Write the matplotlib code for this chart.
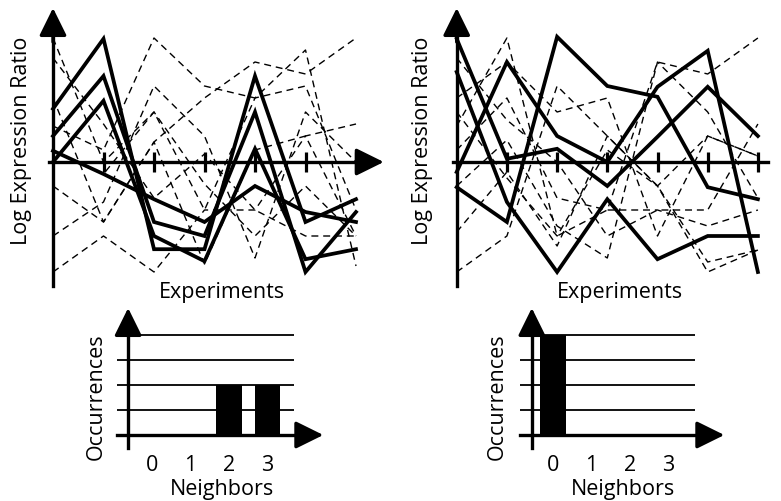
import matplotlib
matplotlib.use("Agg")
import matplotlib.pyplot as plt

W, H = 781, 502

# Experiment profiles (log expression ratio per experiment)
experiments = [0, 1, 2, 3, 4, 5, 6]

left_cluster = [
    [1.33, 3.08, -2.18, -2.18, 2.15, -1.5, -0.93],
    [0.65, 2.15, -1.5, -1.85, 1.25, -2.75, -1.25],
    [0.0, 1.53, -1.85, -2.48, 0.33, -2.43, -2.18],
    [0.28, -0.3, -0.93, -1.5, -0.6, -1.25, -1.5],
]
left_background = [
    [3.1, 0.0, 1.25, -0.55, -1.85, -0.6, -1.85],
    [0.9, 0.3, 3.1, 1.9, 1.6, 2.8, -2.6],
    [-0.6, -1.5, 0.5, 1.6, 2.5, 2.2, 3.1],
    [-2.75, -1.85, -2.75, -1.2, -1.2, 0.65, 0.95],
    [-1.85, -1.0, 1.9, 0.65, -2.4, 1.25, 0.0],
    [0.3, -0.3, 1.25, -1.2, 1.6, 1.9, -1.2],
    [1.6, -1.5, 0.5, -2.55, 0.3, 0.65, -1.85],
    [2.6, 0.95, -0.9, 0.2, -1.2, -1.85, -1.85],
]

right_cluster = [
    [3.08, 0.08, 0.33, -0.6, 0.63, 1.88, 0.65],
    [2.25, -1.0, -2.75, -0.93, -2.43, -1.85, -1.85],
    [-0.25, 2.5, 0.65, 0.0, 1.88, 2.78, -2.75],
    [-0.63, -1.5, 3.13, 1.9, 1.63, -0.63, -0.93],
]
right_background = [
    [0.9, 3.1, -1.85, -1.2, 2.5, 2.2, 3.1],
    [-2.75, -1.85, 1.9, 0.65, -0.6, -2.5, -2.2],
    [1.6, 2.5, 1.25, 1.6, -1.85, 0.65, 0.15],
    [0.3, 1.6, -0.9, -1.2, -1.2, -1.6, -1.2],
    [-0.6, 0.55, -1.6, -2.4, 2.5, 1.25, -0.9],
    [-1.75, -0.25, -2.1, 0.65, -0.6, -2.75, -2.2],
    [2.6, 1.05, 0.0, -1.85, -1.2, -1.2, 0.95],
    [1.25, -0.4, -1.85, 0.3, -0.6, 0.65, 0.15],
]

# Neighbor-count histograms
neighbors = [0, 1, 2, 3]
left_counts = [0, 0, 2, 2]
right_counts = [4, 0, 0, 0]
count_levels = [0, 1, 2, 3, 4]

plt.rcParams["font.family"] = ["Open Sans", "DejaVu Sans"]
FS = 15.5

fig = plt.figure(figsize=(W / 100, H / 100), dpi=100)


def panel_axes(box, x0, y0, sx, sy):
    """Axes over a pixel box, with data origin at (x0, y0) px and sx/sy px per unit."""
    left, top, right, bottom = box
    ax = fig.add_axes([left / W, 1 - bottom / H, (right - left) / W, (bottom - top) / H])
    ax.set_xlim((left - x0) / sx, (right - x0) / sx)
    ax.set_ylim((y0 - bottom) / sy, (y0 - top) / sy)
    ax.axis("off")
    return ax


def arrow(ax, start, end):
    ax.annotate("", xy=end, xytext=start,
                arrowprops=dict(arrowstyle="-|>,head_length=0.85,head_width=0.42",
                                lw=2.4, color="black", mutation_scale=20,
                                shrinkA=0, shrinkB=0))


def profile_panel(box, x0, sx, cluster, background, ylab_x, xlab_x):
    ax = panel_axes(box, x0, 163, sx, 40)
    for prof in background:
        ax.plot(experiments, prof, color="black", lw=1.0, ls=(0, (5, 3.5)))
    for prof in cluster:
        ax.plot(experiments, prof, color="black", lw=2.7, solid_joinstyle="miter")
    # axes with arrow heads
    ax.plot([0, 0], [-3.1, 3.2], color="black", lw=2.4)
    arrow(ax, (0, 3.0), (0, 3.85))
    ax.plot([-0.07, 6.2], [0, 0], color="black", lw=2.4)
    arrow(ax, (6.0, 0), (6.55, 0))
    ax.vlines(experiments[1:], -0.26, 0.26, color="black", lw=2.3)
    ax.text(ylab_x, 0.55, "Log Expression Ratio", rotation=90, fontsize=FS,
            ha="center", va="center")
    ax.text(xlab_x, -3.25, "Experiments", fontsize=FS, ha="center", va="center")
    return ax


def hist_panel(box, x0, counts, yaxis_x, ylab_x):
    ax = panel_axes(box, x0, 436, 38.5, 25)
    ax.bar(neighbors, counts, width=0.66, color="black", zorder=3)
    ax.hlines(count_levels[1:], yaxis_x - 0.3, 3.69, color="black", lw=1.3)
    ax.plot([yaxis_x - 0.3, 4.0], [0, 0], color="black", lw=2.4)
    arrow(ax, (3.9, 0), (4.45, 0))
    ax.plot([yaxis_x, yaxis_x], [-0.5, 4.5], color="black", lw=2.4)
    arrow(ax, (yaxis_x, 4.3), (yaxis_x, 5.08))
    for n in neighbors:
        ax.text(n, -1.2, str(n), fontsize=FS, ha="center", va="center")
    ax.text(1.82, -2.16, "Neighbors", fontsize=FS, ha="center", va="center")
    ax.text(ylab_x, 1.56, "Occurrences", rotation=90, fontsize=FS,
            ha="center", va="center")
    return ax


profile_panel((0, 0, 390, 305), 53, 50.5, left_cluster, left_background, -0.63, 3.35)
profile_panel((390, 0, 781, 305), 456.7, 50.2, right_cluster, right_background, -0.68, 3.26)
hist_panel((0, 300, 390, 502), 152, left_counts, -0.62, -1.45)
hist_panel((390, 300, 781, 502), 553, right_counts, -0.55, -1.45)

fig.savefig("out.png", dpi=100)
